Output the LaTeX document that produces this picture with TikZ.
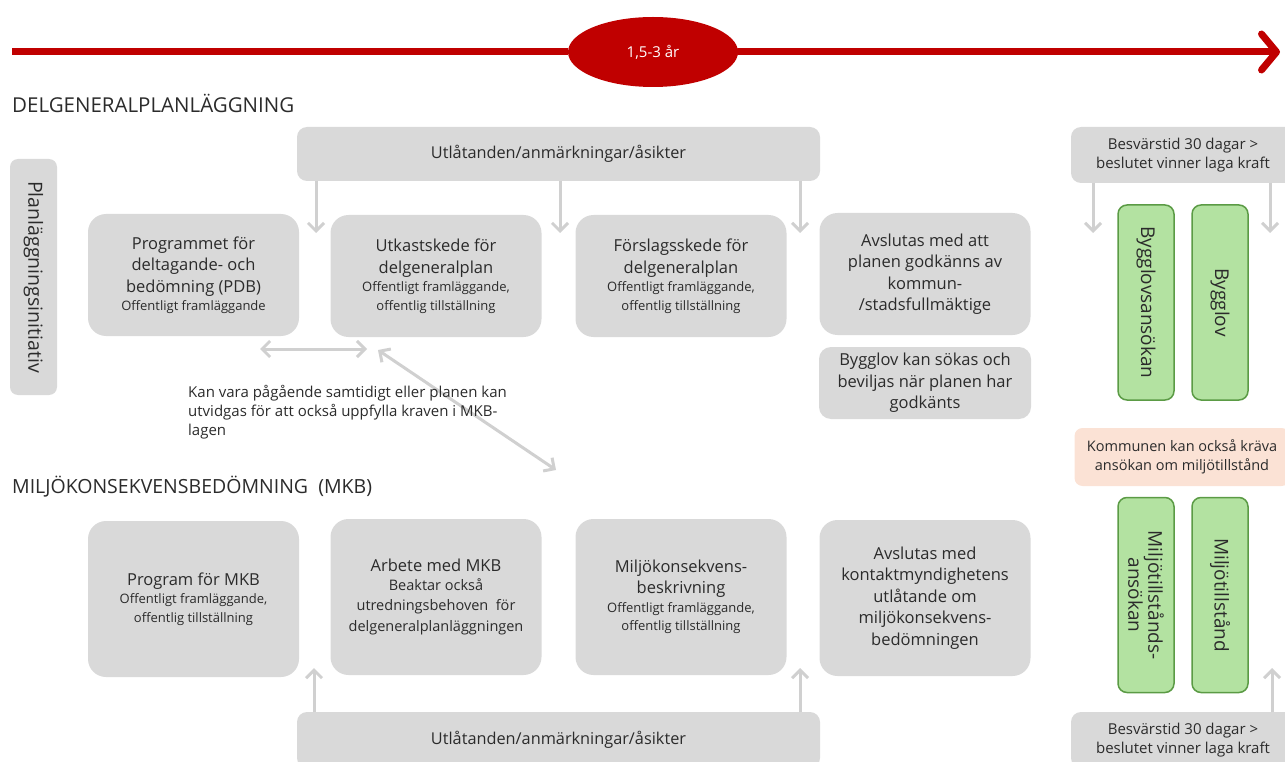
\documentclass[tikz,border=0pt]{standalone}
\usepackage{fontspec}
\setmainfont{Open Sans}
\usetikzlibrary{arrows.meta,shapes.geometric}
\definecolor{boxgray}{HTML}{D9D9D9}
\definecolor{arrgray}{HTML}{D0D0D0}
\definecolor{txt}{HTML}{2B2B2B}
\definecolor{redline}{HTML}{C00000}
\definecolor{grfill}{HTML}{B3E2A1}
\definecolor{grdraw}{HTML}{5B9B45}
\definecolor{orfill}{HTML}{FBE2D5}
\newcommand{\mainfs}{\fontsize{16.5}{21.5}\selectfont}
\newcommand{\smfs}{\fontsize{13}{16}\selectfont}
\newcommand{\mdfs}{\fontsize{14.5}{18}\selectfont}
\begin{document}
\begin{tikzpicture}[x=1pt,y=-1pt,
  box/.style={fill=boxgray, rounded corners=18pt, align=center, text=txt, inner sep=0pt, font=\mainfs},
  bigbox/.style={box, minimum width=211pt, minimum height=122pt},
  lowbox/.style={box, minimum width=211pt, minimum height=156pt},
  cbox/.style={box, rounded corners=10pt, font=\fontsize{15}{19}\selectfont},
  gbox/.style={fill=grfill, draw=grdraw, line width=1.5pt, rounded corners=9pt, rotate=-90, align=center, text=txt, inner sep=0pt, minimum width=195pt, minimum height=56pt, font=\fontsize{19}{20}\selectfont},
  garrow/.style={draw=arrgray, line width=3pt, -{Straight Barb[length=8pt,width=16pt]}},
  darrow/.style={draw=arrgray, line width=3pt, {Straight Barb[length=8pt,width=16pt]}-{Straight Barb[length=8pt,width=16pt]}},
  head/.style={anchor=west, text=txt, inner sep=0pt}
]
\useasboundingbox (0,0) rectangle (1285,762);

% time line
\node[ellipse, fill=redline, minimum width=170pt, minimum height=70pt, text=white, inner sep=0pt, font=\fontsize{15}{18}\selectfont] (dur) at (653,52) {1,5-3 år};
\coordinate (rl) at (12,52);
\coordinate (rr) at (1280,52);
\draw[redline, line width=7pt] (rl) -- (dur.west);
\draw[redline, line width=7pt, line cap=round, -{Straight Barb[length=15pt,width=36pt,line width=7pt,round]}] (dur.east) -- (rr);

% headings
\node[head, font=\fontsize{20.5}{24}\selectfont] (h1) at (12,103) {DELGENERALPLANLÄGGNING};
\node[head, font=\fontsize{19.5}{24}\selectfont] (h2) at (12,487) {MILJÖKONSEKVENSBEDÖMNING\ \ (MKB)};

% left vertical
\node[box, rotate=-90, rounded corners=8pt, minimum width=236pt, minimum height=47pt, font=\fontsize{19.5}{22}\selectfont] (init) at (33.5,277) {Planläggningsinitiativ};

% top comment box
\node[cbox, minimum width=523pt, minimum height=54pt, font=\fontsize{16.3}{19}\selectfont] (utlT) at (558.5,154) {Utlåtanden/anmärkningar/åsikter};

% top row
\node[bigbox] (p1) at (193.5,275) {Programmet för\\deltagande- och\\bedömning (PDB)\\[-3pt]{\smfs Offentligt framläggande}};
\node[bigbox] (p2) at (436,276) {Utkastskede för\\delgeneralplan\\[-3pt]{\smfs Offentligt framläggande,}\\[-3pt]{\smfs offentlig tillställning}};
\node[bigbox] (p3) at (681,276) {Förslagsskede för\\delgeneralplan\\[-3pt]{\smfs Offentligt framläggande,}\\[-3pt]{\smfs offentlig tillställning}};
\node[bigbox] (p4) at (925,274) {Avslutas med att\\planen godkänns av\\kommun-\\/stadsfullmäktige};
\node[box, rounded corners=12pt, minimum width=212pt, minimum height=72pt] (p5) at (925,383) {Bygglov kan sökas och\\beviljas när planen har\\godkänts};

% arrows from top comment box
\coordinate (t1s) at (316,181); \coordinate (t1e) at (316,233);
\coordinate (t2s) at (560,181); \coordinate (t2e) at (560,233);
\coordinate (t3s) at (800,181); \coordinate (t3e) at (800,233);
\draw[garrow] (t1s) -- (t1e);
\draw[garrow] (t2s) -- (t2e);
\draw[garrow] (t3s) -- (t3e);

% double arrows
\coordinate (d1a) at (260,349); \coordinate (d1b) at (367,349);
\coordinate (d2a) at (378,350); \coordinate (d2b) at (556,470);
\draw[darrow] (d1a) -- (d1b);
\draw[darrow] (d2a) -- (d2b);

% note
\node[anchor=north west, align=left, text=txt, inner sep=0pt, font=\fontsize{15}{19}\selectfont] (note) at (188,385) {Kan vara pågående samtidigt eller planen kan\\utvidgas för att också uppfylla kraven i MKB-\\lagen};

% bottom row
\node[lowbox] (m1) at (193.5,599) {Program för MKB\\[-3pt]{\smfs Offentligt framläggande,}\\[-3pt]{\smfs offentlig tillställning}};
\node[lowbox] (m2) at (436,597) {Arbete med MKB\\[-3pt]{\mdfs Beaktar också}\\[-1pt]{\mdfs utredningsbehoven\ \ för}\\[-1pt]{\mdfs delgeneralplanläggningen}};
\node[lowbox] (m3) at (681,597) {Miljökonsekvens-\\beskrivning\\[-3pt]{\smfs Offentligt framläggande,}\\[-3pt]{\smfs offentlig tillställning}};
\node[lowbox] (m4) at (925,598) {Avslutas med\\kontaktmyndighetens\\utlåtande om\\miljökonsekvens-\\bedömningen};

% bottom comment box
\node[cbox, minimum width=523pt, minimum height=56pt, font=\fontsize{16.3}{19}\selectfont] (utlB) at (558.5,740) {Utlåtanden/anmärkningar/åsikter};
\coordinate (b1s) at (314,712); \coordinate (b1e) at (314,668);
\coordinate (b2s) at (800,712); \coordinate (b2e) at (800,668);
\draw[garrow] (b1s) -- (b1e);
\draw[garrow] (b2s) -- (b2e);

% right column
\node[cbox, minimum width=224pt, minimum height=56pt] (besT) at (1183,155) {Besvärstid 30 dagar >\\beslutet vinner laga kraft};
\node[cbox, minimum width=224pt, minimum height=56pt] (besB) at (1183,740) {Besvärstid 30 dagar >\\beslutet vinner laga kraft};
\node[gbox] (g1) at (1146,302.5) {Bygglovsansökan};
\node[gbox] (g2) at (1220,302.5) {Bygglov};
\node[box, fill=orfill, rounded corners=8pt, minimum width=215pt, minimum height=58pt, font=\fontsize{14.5}{19}\selectfont] (or) at (1182,457) {Kommunen kan också kräva\\ansökan om miljötillstånd};
\node[gbox] (g3) at (1146,595) {Miljötillstånds-\\ansökan};
\node[gbox] (g4) at (1220,595) {Miljötillstånd};
\coordinate (r1s) at (1093,183); \coordinate (r1e) at (1093,233);
\coordinate (r2s) at (1270,183); \coordinate (r2e) at (1270,233);
\coordinate (r3s) at (1272,712); \coordinate (r3e) at (1272,668);
\draw[garrow] (r1s) -- (r1e);
\draw[garrow] (r2s) -- (r2e);
\draw[garrow] (r3s) -- (r3e);
\end{tikzpicture}
\end{document}
